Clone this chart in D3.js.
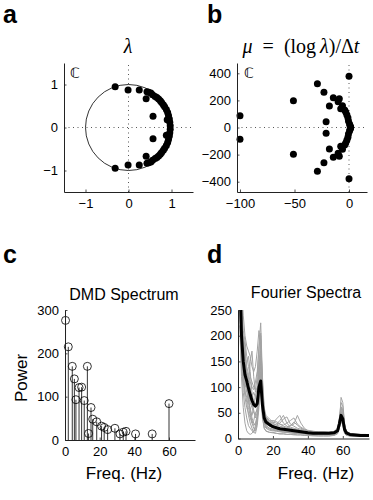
<!DOCTYPE html>
<html>
<head>
<meta charset="utf-8">
<script src="https://cdn.jsdelivr.net/npm/d3@7"></script>
<style>
	body { margin: 0; background: #fff; }
	svg text { font-family: "Liberation Sans", Arial, Helvetica, sans-serif; }
</style>
</head>
<body>
<div id="fig"><svg></svg></div>
<script>
// panel a: DMD eigenvalues lambda
var lamRe = [-0.31, -0.01, 0.25, 0.43, 0.41, 0.57, 0.90, 0.47, 0.52, 0.56, 0.62, 0.66, 0.70, 0.74, 0.77, 0.81, 0.84, 0.88, 0.91, 0.93, 0.95, 0.96, 0.97,
	-0.31, -0.01, 0.25, 0.43, 0.41, 0.57, 0.88, 0.47, 0.52, 0.56, 0.62, 0.66, 0.70, 0.74, 0.77, 0.81, 0.84, 0.88, 0.91, 0.93, 0.95, 0.96, 0.97];
var lamIm = [0.95, 0.87, 0.87, 0.83, 0.67, 0.26, 0.18, 0.82, 0.80, 0.76, 0.72, 0.70, 0.66, 0.62, 0.58, 0.53, 0.48, 0.42, 0.35, 0.28, 0.20, 0.12, 0.04,
	-0.95, -0.87, -0.87, -0.83, -0.67, -0.26, -0.18, -0.82, -0.80, -0.76, -0.72, -0.70, -0.66, -0.62, -0.58, -0.53, -0.48, -0.42, -0.35, -0.28, -0.20, -0.12, -0.04];

// panel b: mu = log(lambda)/dt
var muRe = [0, -29, -23, -51, -14.4, -8.9, -18, -7.6, -10, -6, -4, -3, -2, -1, -0.5, 0.5, 1, 1.5, -21, -100,
	0, -29, -23, -51, -14.4, -8.9, -18, -7.6, -10, -6, -4, -3, -2, -1, -0.5, 0.5, 1, 1.5, -21, -100];
var muIm = [379, 322, 261, 198, 220, 213, 159, 139, 190, 160, 130, 115, 95, 72, 48, 25, 12, 3, 42, 86,
	-379, -322, -261, -198, -220, -213, -159, -139, -190, -160, -130, -115, -95, -72, -48, -25, -12, -3, -42, -86];

// panel c: DMD spectrum
var dmdFreq = [0.3, 1.9, 4.2, 5.4, 6.3, 8.1, 9.6, 11.1, 12.9, 13.6, 15.0, 16.0, 18.3, 21.1, 22.6, 24.6, 28.8, 31.7, 33.6, 35.2, 40.7, 50.3, 60.0];
var dmdPower = [276, 215, 170, 141, 93, 121, 122, 91, 170, 15, 75, 48, 42, 32, 29, 24, 27, 14, 18, 20, 14, 14, 84];

// panel d: Fourier spectra (channels in gray, mean in black)
var fq = [1, 2, 3, 4, 5, 6, 7, 8, 9, 10, 11, 12, 13, 14, 15, 16, 18, 20, 22, 24, 26, 28, 30, 32, 34, 36, 38, 40, 43, 46, 49, 52, 55, 57, 58, 59, 60, 61, 62, 64, 67, 70, 73, 75];
var meanSpec = [330, 200, 150, 124, 112, 98, 85, 74, 66, 63, 68, 100, 112, 65, 40, 32, 27, 23, 21, 19, 18, 17, 16, 15, 14, 13, 12, 11, 10, 10, 10, 10, 11, 15, 28, 45, 38, 18, 11, 8, 7, 6, 6, 6];
var gray1 = [400, 280, 210, 190, 160, 140, 120, 110, 100, 95, 120, 180, 225, 120, 60, 45, 38, 32, 30, 28, 26, 30, 35, 40, 28, 22, 18, 16, 14, 13, 13, 12, 13, 18, 35, 60, 55, 25, 14, 10, 8, 8, 7, 7];
var gray2 = [250, 150, 90, 60, 40, 25, 20, 15, 12, 20, 35, 80, 90, 40, 20, 15, 12, 12, 10, 9, 9, 8, 8, 8, 7, 7, 6, 6, 5, 5, 5, 5, 6, 10, 25, 40, 30, 12, 7, 5, 4, 4, 4, 4];
var gray3 = [350, 230, 180, 150, 130, 110, 150, 170, 120, 90, 100, 150, 160, 90, 50, 40, 30, 25, 28, 35, 45, 30, 22, 20, 18, 16, 14, 12, 11, 10, 11, 10, 12, 16, 30, 50, 45, 20, 12, 9, 7, 6, 6, 6];
var gray4 = [300, 200, 120, 100, 110, 90, 70, 60, 50, 45, 60, 110, 140, 70, 35, 28, 24, 20, 18, 16, 15, 15, 14, 14, 12, 12, 11, 10, 9, 9, 8, 8, 9, 13, 28, 42, 38, 16, 10, 7, 6, 6, 5, 5];
var gray5 = [280, 180, 200, 180, 120, 80, 50, 30, 20, 15, 30, 100, 190, 80, 40, 30, 25, 22, 20, 18, 17, 20, 25, 28, 45, 30, 20, 15, 12, 11, 10, 10, 11, 15, 32, 55, 48, 22, 12, 8, 7, 6, 6, 5];
var gray6 = [380, 260, 140, 110, 90, 70, 60, 40, 30, 25, 40, 70, 100, 55, 30, 25, 20, 18, 16, 15, 14, 13, 13, 12, 12, 11, 10, 10, 9, 9, 9, 9, 10, 14, 26, 38, 32, 14, 9, 6, 5, 5, 5, 5];
var gray7 = [330, 220, 160, 140, 150, 160, 130, 90, 70, 60, 80, 140, 200, 100, 45, 35, 30, 28, 26, 24, 22, 20, 19, 18, 17, 15, 14, 13, 12, 11, 11, 11, 12, 17, 34, 58, 52, 24, 13, 9, 8, 7, 7, 6];
var gray8 = [260, 140, 110, 80, 60, 50, 40, 30, 35, 50, 55, 90, 120, 60, 30, 22, 18, 16, 15, 14, 13, 12, 12, 11, 11, 10, 9, 9, 8, 8, 8, 8, 9, 12, 22, 36, 30, 12, 8, 6, 5, 5, 5, 4];
var gray9 = [360, 240, 190, 170, 130, 120, 100, 80, 90, 80, 70, 120, 170, 85, 48, 38, 32, 30, 38, 45, 30, 24, 20, 18, 16, 15, 14, 13, 12, 11, 12, 11, 12, 16, 30, 48, 42, 20, 11, 8, 7, 7, 6, 6];
var gray10 = [290, 170, 130, 90, 80, 60, 45, 35, 25, 30, 45, 95, 150, 70, 32, 25, 20, 18, 16, 14, 13, 12, 11, 11, 10, 10, 9, 9, 8, 8, 8, 8, 9, 12, 24, 80, 70, 28, 12, 8, 6, 6, 5, 5];
var gray11 = [220, 120, 60, 30, 15, 10, 8, 10, 15, 25, 40, 70, 110, 45, 20, 14, 12, 11, 10, 9, 9, 8, 8, 7, 7, 7, 6, 6, 6, 5, 5, 5, 6, 9, 20, 32, 26, 10, 6, 5, 4, 4, 4, 4];
var gray12 = [420, 300, 240, 200, 180, 170, 160, 140, 130, 140, 170, 210, 180, 110, 55, 42, 35, 30, 26, 30, 38, 42, 28, 24, 20, 18, 16, 15, 14, 13, 13, 12, 14, 20, 38, 70, 62, 28, 15, 10, 9, 8, 8, 7];
var gray13 = [310, 210, 170, 130, 100, 75, 55, 45, 60, 85, 95, 130, 165, 90, 42, 33, 27, 24, 22, 20, 19, 18, 17, 16, 15, 14, 13, 12, 11, 10, 10, 10, 11, 15, 28, 52, 46, 20, 11, 8, 7, 6, 6, 6];
var gray14 = [270, 160, 120, 95, 70, 45, 30, 20, 12, 10, 25, 60, 130, 50, 25, 20, 16, 15, 14, 13, 12, 12, 11, 10, 10, 9, 9, 8, 7, 7, 7, 7, 8, 11, 20, 34, 28, 11, 7, 5, 5, 4, 4, 4];
var gray15 = [340, 250, 200, 160, 140, 125, 110, 100, 95, 110, 130, 175, 205, 105, 52, 40, 34, 35, 33, 28, 24, 22, 25, 32, 26, 20, 17, 15, 13, 12, 12, 12, 13, 18, 33, 62, 56, 24, 13, 9, 8, 7, 7, 6];
var gray16 = [300, 190, 150, 120, 100, 80, 70, 65, 55, 40, 50, 85, 125, 75, 38, 30, 26, 23, 20, 18, 17, 16, 15, 15, 14, 13, 12, 11, 10, 10, 9, 9, 10, 14, 27, 44, 40, 17, 10, 7, 6, 6, 5, 5];
var grayAll = [gray1, gray2, gray3, gray4, gray5, gray6, gray7, gray8, gray9, gray10, gray11, gray12, gray13, gray14, gray15, gray16];

var ticksA = [-1, 0, 1];
var ticksBx = [-100, -50, 0];
var ticksBy = [-400, -200, 0, 200, 400];
var ticksC = [0, 20, 40, 60];
var ticksCy = [0, 100, 200, 300];
var ticksDy = [0, 50, 100, 150, 200, 250];

var width = 373, height = 500;
var svg = d3.select("#fig").select("svg")
	.attr("width", width)
	.attr("height", height);

function fmt(d) { return d < 0 ? "\u2212" + Math.abs(d) : "" + d; }

function draw_axes(x, y, xt, yt)
{
	var gx = svg.append("g")
		.attr("transform", "translate(0," + y.range()[0] + ")")
		.call(d3.axisBottom(x).tickValues(xt).tickFormat(fmt).tickSizeInner(-2.5).tickSizeOuter(0).tickPadding(7));
	var gy = svg.append("g")
		.attr("transform", "translate(" + x.range()[0] + ",0)")
		.call(d3.axisLeft(y).tickValues(yt).tickFormat(fmt).tickSizeInner(-2.5).tickSizeOuter(0).tickPadding(6));
	[gx, gy].forEach(function(g)
	{
		g.selectAll("text").style("font-size", "13px").attr("fill", "#000")
			.style("font-family", "'Liberation Sans', Arial, sans-serif");
		g.selectAll("line").attr("stroke", "#222").attr("stroke-width", 0.8);
		g.select(".domain").attr("stroke", "#222").attr("stroke-width", 1);
	});
}

function dotted(x, y)
{
	svg.append("line")
		.attr("x1", x.range()[0]).attr("x2", x.range()[1])
		.attr("y1", y(0)).attr("y2", y(0))
		.attr("stroke", "#444").attr("stroke-width", 0.9).attr("stroke-dasharray", "1,3.5");
	svg.append("line")
		.attr("x1", x(0)).attr("x2", x(0))
		.attr("y1", y.range()[0]).attr("y2", y.range()[1])
		.attr("stroke", "#444").attr("stroke-width", 0.9).attr("stroke-dasharray", "1,3.5");
}

function letter(t, x, y)
{
	svg.append("text").attr("x", x).attr("y", y).text(t)
		.style("font-size", "25px").style("font-weight", "bold");
}

function cmark(x, y)
{
	svg.append("text").attr("x", x).attr("y", y).text("\u2102")
		.attr("fill", "#000")
		.style("font-family", "'DejaVu Sans', sans-serif").style("font-size", "14px");
}

var serif = "'Liberation Serif', 'DejaVu Serif', serif";

// ---------- a ----------
var ax = d3.scaleLinear().domain([-1.5, 1.5]).range([64, 193]);
var ay = d3.scaleLinear().domain([-1.5, 1.5]).range([192, 63]);
dotted(ax, ay);
svg.append("circle")
	.attr("cx", ax(0)).attr("cy", ay(0))
	.attr("r", ax(1) - ax(0))
	.attr("fill", "none").attr("stroke", "#000").attr("stroke-width", 0.8);
svg.selectAll(".lam")
	.data(d3.range(lamRe.length))
	.enter().append("circle")
	.attr("class", "lam")
	.attr("cx", function(i) { return ax(lamRe[i]); })
	.attr("cy", function(i) { return ay(lamIm[i]); })
	.attr("r", 3.5)
	.attr("fill", "#000");
draw_axes(ax, ay, ticksA, ticksA);
cmark(70, 78);
svg.append("text").attr("x", 128).attr("y", 53).attr("text-anchor", "middle")
	.text("\u03bb")
	.style("font-family", serif).style("font-style", "italic").style("font-size", "20px");
letter("a", 3, 23);

// ---------- b ----------
var bx = d3.scaleLinear().domain([-102.75, 16.5]).range([237, 367]);
var by = d3.scaleLinear().domain([-476, 476]).range([192, 63]);
dotted(bx, by);
svg.selectAll(".mu")
	.data(d3.range(muRe.length))
	.enter().append("circle")
	.attr("class", "mu")
	.attr("cx", function(i) { return bx(muRe[i]); })
	.attr("cy", function(i) { return by(muIm[i]); })
	.attr("r", 3.5)
	.attr("fill", "#000");
draw_axes(bx, by, ticksBx, ticksBy);
cmark(244, 78);
var bt = svg.append("text").attr("x", 301).attr("y", 53).attr("text-anchor", "middle")
	.style("font-family", serif).style("font-size", "20px");
bt.append("tspan").text("\u03bc").style("font-style", "italic");
bt.append("tspan").text("\u2002=\u2002(log\u2009");
bt.append("tspan").text("\u03bb").style("font-style", "italic");
bt.append("tspan").text(")/\u0394");
bt.append("tspan").text("t").style("font-style", "italic");
letter("b", 207, 23);

// ---------- c ----------
var cx = d3.scaleLinear().domain([0, 75]).range([65, 195]);
var cy = d3.scaleLinear().domain([0, 300]).range([440, 310]);
svg.selectAll(".stem")
	.data(d3.range(dmdFreq.length))
	.enter().append("line")
	.attr("class", "stem")
	.attr("x1", function(i) { return cx(dmdFreq[i]); })
	.attr("x2", function(i) { return cx(dmdFreq[i]); })
	.attr("y1", cy(0))
	.attr("y2", function(i) { return cy(dmdPower[i]); })
	.attr("stroke", "#000").attr("stroke-width", 0.8);
svg.selectAll(".stemdot")
	.data(d3.range(dmdFreq.length))
	.enter().append("circle")
	.attr("class", "stemdot")
	.attr("cx", function(i) { return cx(dmdFreq[i]); })
	.attr("cy", function(i) { return cy(dmdPower[i]); })
	.attr("r", 4)
	.attr("fill", "none").attr("stroke", "#000").attr("stroke-width", 0.8);
draw_axes(cx, cy, ticksC, ticksCy);
svg.append("text").attr("x", 124).attr("y", 300).attr("text-anchor", "middle")
	.text("DMD Spectrum").style("font-size", "16px");
svg.append("text").attr("transform", "translate(27,378) rotate(-90)").attr("text-anchor", "middle")
	.text("Power").style("font-size", "17px");
svg.append("text").attr("x", 124).attr("y", 479).attr("text-anchor", "middle")
	.text("Freq. (Hz)").style("font-size", "17px");
letter("c", 3, 263);

// ---------- d ----------
var dx = d3.scaleLinear().domain([0, 75]).range([238, 369]);
var dy = d3.scaleLinear().domain([0, 250]).range([438.5, 310]);
svg.append("clipPath").attr("id", "clipd")
	.append("rect").attr("x", 238).attr("y", 310).attr("width", 131).attr("height", 128.5);
var line = d3.line()
	.x(function(d, i) { return dx(fq[i]); })
	.y(function(d) { return dy(d); });
var gd = svg.append("g").attr("clip-path", "url(#clipd)");
gd.selectAll(".gray")
	.data(grayAll)
	.enter().append("path")
	.attr("class", "gray")
	.attr("d", line)
	.attr("fill", "none").attr("stroke", "#a3a3a3").attr("stroke-width", 1);
gd.append("path")
	.datum(meanSpec)
	.attr("d", line)
	.attr("fill", "none").attr("stroke", "#000").attr("stroke-width", 3).attr("stroke-linejoin", "round");
draw_axes(dx, dy, ticksC, ticksDy);
svg.append("text").attr("x", 306).attr("y", 298).attr("text-anchor", "middle")
	.text("Fourier Spectra").style("font-size", "16px");
svg.append("text").attr("x", 316).attr("y", 479).attr("text-anchor", "middle")
	.text("Freq. (Hz)").style("font-size", "17px");
letter("d", 207, 263);
</script>
</body>
</html>
